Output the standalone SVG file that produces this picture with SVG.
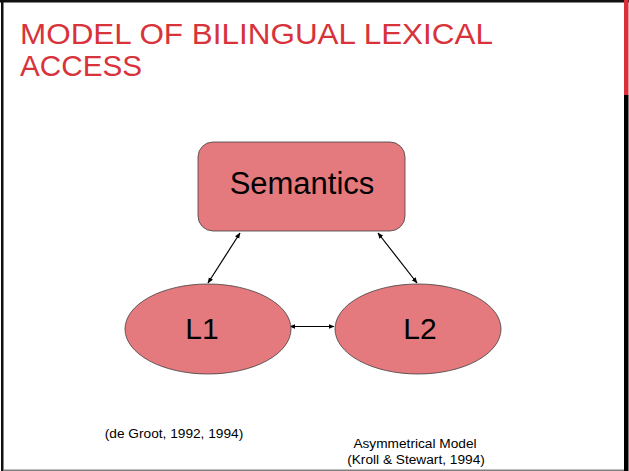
<svg xmlns="http://www.w3.org/2000/svg" width="629" height="471" viewBox="0 0 629 471">
<style>
.node{fill:#E57A7E;stroke:#404040;stroke-width:0.8}
.lbl{font-family:"Liberation Sans",Arial,sans-serif;fill:#000;text-anchor:middle}
.title{font-family:"Liberation Sans",Arial,sans-serif;fill:#D8333B;font-size:30px}
.small{font-family:"Liberation Sans",Arial,sans-serif;fill:#000;font-size:13.7px;text-anchor:middle}
.conn{stroke:#000;stroke-width:1.2;fill:none;marker-start:url(#ah);marker-end:url(#ah)}
</style>
<defs>
<marker id="ah" viewBox="0 0 10 10" refX="9" refY="5" markerWidth="6" markerHeight="6" markerUnits="userSpaceOnUse" orient="auto-start-reverse">
<path d="M0,1 L10,5 L0,9 z" fill="#000"/>
</marker>
</defs>
<rect x="0" y="0" width="629" height="471" fill="#fff"/>
<g id="frame">
<rect x="0" y="0" width="629" height="2.5" fill="#111"/>
<rect x="1" y="0" width="2.5" height="471" fill="#111"/>
<rect x="624" y="0" width="4.5" height="95" fill="#D9303A"/>
<rect x="624" y="95" width="4.5" height="376" fill="#000"/>
<rect x="3" y="469.5" width="621" height="1.5" fill="#808080"/>
</g>
<g id="title">
<text class="title" x="20" y="44" textLength="473" lengthAdjust="spacingAndGlyphs">MODEL OF BILINGUAL LEXICAL</text>
<text class="title" x="20" y="76" textLength="122" lengthAdjust="spacingAndGlyphs">ACCESS</text>
</g>
<g id="connectors">
<line class="conn" x1="240" y1="233" x2="208" y2="283"/>
<line class="conn" x1="378" y1="233" x2="417" y2="283"/>
<line class="conn" x1="290" y1="326.5" x2="334" y2="326.5"/>
</g>
<g id="semantics">
<rect class="node" x="198" y="142" width="207" height="89" rx="15" ry="15"/>
<text class="lbl" x="302" y="194" font-size="31">Semantics</text>
</g>
<g id="l1">
<ellipse class="node" cx="208" cy="329" rx="83" ry="45"/>
<text class="lbl" x="202" y="339" font-size="30">L1</text>
</g>
<g id="l2">
<ellipse class="node" cx="418" cy="329" rx="83" ry="45"/>
<text class="lbl" x="420" y="339" font-size="30">L2</text>
</g>
<g id="notes">
<text class="small" x="174" y="438">(de Groot, 1992, 1994)</text>
<text class="small" x="415" y="448">Asymmetrical Model</text>
<text class="small" x="416" y="464">(Kroll &amp; Stewart, 1994)</text>
</g>
</svg>
